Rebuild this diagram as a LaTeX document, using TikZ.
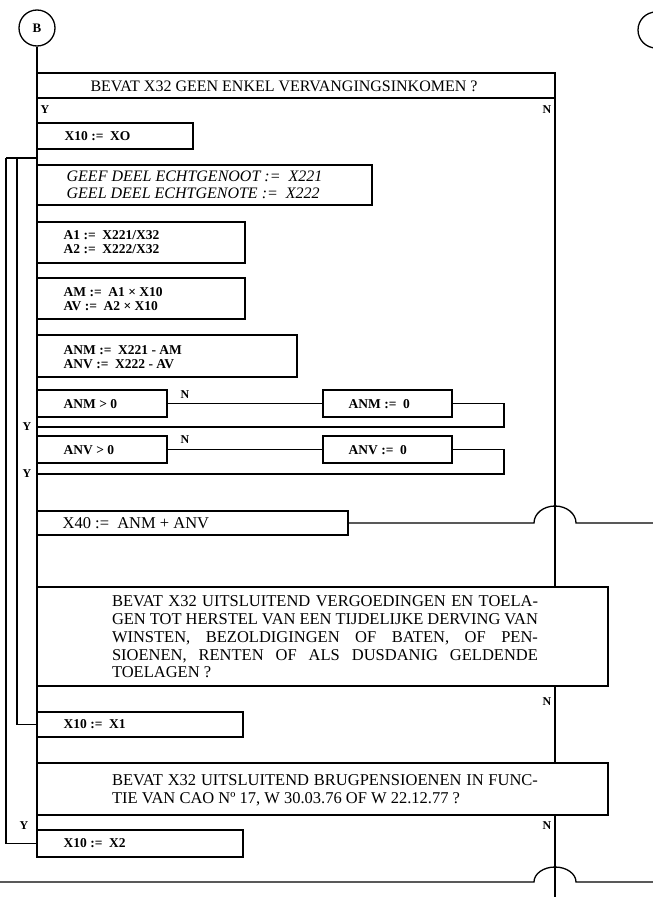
\documentclass[tikz,border=0pt]{standalone}
\usepackage{fontspec}
\setmainfont{Liberation Serif}
\begin{document}
\begin{tikzpicture}[x=1pt,y=-1pt,line width=1.3pt,
 box/.style={draw,line width=1.3pt,anchor=north west,inner sep=0pt,outer sep=0pt},
 bl/.style={font=\bfseries\fontsize{13.5}{14.5}\selectfont,anchor=west,inner sep=0pt,align=left},
 itl/.style={font=\itshape\fontsize{16}{17}\selectfont,anchor=west,inner sep=0pt,align=left},
 rm/.style={font=\fontsize{16}{17.5}\selectfont,inner sep=0pt},
 rmb/.style={font=\fontsize{16.5}{17.8}\selectfont,inner sep=0pt},
 yn/.style={font=\bfseries\fontsize{12}{12}\selectfont,inner sep=0pt}]
\useasboundingbox (0,0) rectangle (653,897);
% connector circles
\node[draw,circle,minimum size=36pt,inner sep=0pt,font=\bfseries\fontsize{13}{13}\selectfont] (B) at (37,28) {B};
\node[draw,circle,minimum size=36pt,inner sep=0pt] (C) at (656,30) {};
% boxes
\node[box,minimum width=518pt,minimum height=25pt] (title) at (37,73) {};
\node[box,minimum width=156pt,minimum height=26pt] (xo) at (37,123) {};
\node[box,minimum width=335pt,minimum height=40pt] (geef) at (37,165) {};
\node[box,minimum width=208pt,minimum height=41pt] (a1) at (37,222) {};
\node[box,minimum width=208pt,minimum height=41pt] (am) at (37,278) {};
\node[box,minimum width=260pt,minimum height=42pt] (anm) at (37,335) {};
\node[box,minimum width=130pt,minimum height=27pt] (anmp) at (37,390) {};
\node[box,minimum width=129pt,minimum height=27pt] (anmz) at (323,390) {};
\node[box,minimum width=130pt,minimum height=27pt] (anvp) at (37,436) {};
\node[box,minimum width=129pt,minimum height=27pt] (anvz) at (323,436) {};
\node[box,minimum width=311pt,minimum height=24pt] (x40) at (37,511) {};
\node[box,minimum width=571pt,minimum height=99pt] (q1) at (37,587) {};
\node[box,minimum width=206pt,minimum height=25pt] (x1) at (37,712) {};
\node[box,minimum width=571pt,minimum height=52pt] (q2) at (37,763) {};
\node[box,minimum width=206pt,minimum height=27pt] (x2) at (37,830) {};
% texts
\node[rm] (tt) at (284,86) {BEVAT X32 GEEN ENKEL VERVANGINGSINKOMEN ?};
\node[yn,anchor=west] (y0) at (40,110) {Y};
\node[yn,anchor=east] (n0) at (552,110) {N};
\node[bl] (xot) at (64,136) {X10 := \ XO};
\node[itl] (geeft) at (66,185) {GEEF DEEL ECHTGENOOT := \ X221\\GEEL DEEL ECHTGENOTE := \ X222};
\node[bl] (a1t) at (63,242) {A1 := \ X221/X32\\A2 := \ X222/X32};
\node[bl] (amt) at (63,299) {AM := \ A1 × X10\\AV := \ A2 × X10};
\node[bl] (anmt) at (63,357) {ANM := \ X221 - AM\\ANV := \ X222 - AV};
\node[bl] (anmpt) at (63,404) {ANM > 0};
\node[bl] (anmzt) at (348,404) {ANM := \ 0};
\node[yn] (na) at (185,395) {N};
\node[yn] (ya) at (27,427) {Y};
\node[bl] (anvpt) at (63,450) {ANV > 0};
\node[bl] (anvzt) at (348,450) {ANV := \ 0};
\node[yn] (nb) at (185,440) {N};
\node[yn] (yb) at (27,474) {Y};
\node[rmb,anchor=west] (x40t) at (62,523) {X40 := \ ANM + ANV};
\node[rmb,text width=426pt,align=justify] (q1t) at (325,637) {BEVAT X32 UITSLUITEND VERGOEDINGEN EN TOELA-\linebreak GEN TOT HERSTEL VAN EEN TIJDELIJKE DERVING VAN\linebreak WINSTEN, BEZOLDIGINGEN OF BATEN, OF PEN-\linebreak SIOENEN, RENTEN OF ALS DUSDANIG GELDENDE\linebreak TOELAGEN ?};
\node[yn,anchor=east] (n1) at (552,702) {N};
\node[bl] (x1t) at (63,724) {X10 := \ X1};
\node[rmb,text width=426pt,align=justify] (q2t) at (325,790) {BEVAT X32 UITSLUITEND BRUGPENSIOENEN IN FUNC-\linebreak TIE VAN CAO Nº 17, W 30.03.76 OF W 22.12.77 ?};
\node[yn] (y2) at (24,826) {Y};
\node[yn,anchor=east] (n2) at (552,826) {N};
\node[bl] (x2t) at (63,843) {X10 := \ X2};
% coordinates
\coordinate (lt) at (6,158);
\coordinate (it) at (17,158);
\coordinate (ca) at (504,427);
\coordinate (cb) at (504,474);
\coordinate (h1) at (555,523);
\coordinate (r1) at (653,523);
\coordinate (h2) at (555,882);
\coordinate (l2) at (0,882);
\coordinate (r2) at (653,882);
\coordinate (nend) at (555,897);
% connectors
\draw (B.south) -- (title.north west);
\draw (title.north west) -- (x2.south west);
\draw (title.north east) -- (title.north east |- q1.north);
\draw (q1.south -| title.east) -- (q2.north -| title.east);
\draw (q2.south -| title.east) -- (nend);
\draw (lt) -- (lt -| title.west);
\draw (lt) |- (x2.west);
\draw (it) |- (x1.west);
\draw (anmp.east) -- (anmz.west);
\draw (anmz.east) -| (ca) -- (ca -| title.west);
\draw (anvp.east) -- (anvz.west);
\draw (anvz.east) -| (cb) -- (cb -| title.west);
\draw (x40.east) -- ([xshift=-21pt]h1) arc[start angle=180,end angle=0,x radius=21pt,y radius=17pt] -- (r1);
\draw (l2) -- ([xshift=-21pt]h2) arc[start angle=180,end angle=0,x radius=21pt,y radius=15pt] -- (r2);
\end{tikzpicture}
\end{document}
